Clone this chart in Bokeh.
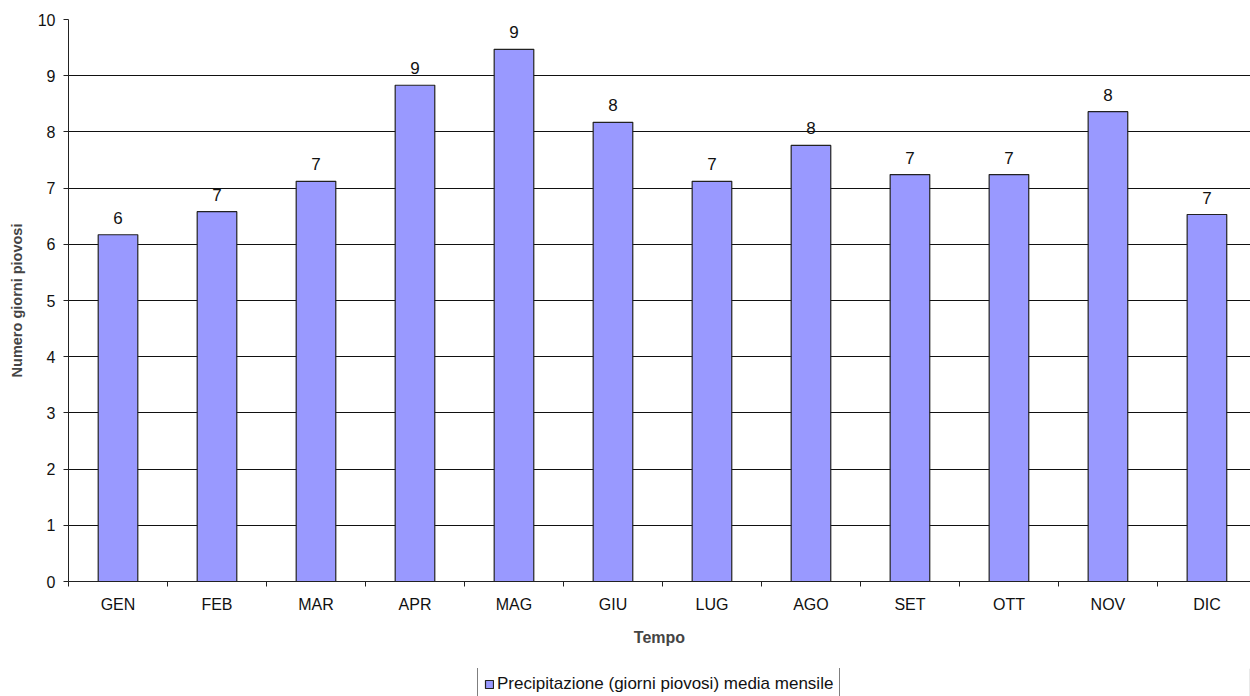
from bokeh.plotting import figure
from bokeh.models import ColumnDataSource, FixedTicker, Range1d, Legend, LegendItem
from bokeh.layouts import column
from bokeh.embed import file_html
from bokeh.resources import INLINE
from bokeh.core.properties import value

months = ["GEN", "FEB", "MAR", "APR", "MAG", "GIU", "LUG", "AGO", "SET", "OTT", "NOV", "DIC"]
giorni = [6.17, 6.58, 7.12, 8.83, 9.47, 8.17, 7.12, 7.76, 7.24, 7.24, 8.36, 6.53]
y_ticks = [0, 1, 2, 3, 4, 5, 6, 7, 8, 9, 10]
series_name = "Precipitazione (giorni piovosi) media mensile"

centers = [i + 0.5 for i in range(len(months))]
bounds = [i for i in range(len(months) + 1)]
labels = [str(int(round(v))) for v in giorni]

src = ColumnDataSource(dict(x=centers, top=giorni, lab=labels))

FONT = "Liberation Sans"
BAR_FILL = "#9999FF"
BAR_LINE = "#222222"

p = figure(width=1250, height=668,
           output_backend="svg", toolbar_location=None,
           x_range=Range1d(0, 11.94), y_range=Range1d(0, 10),
           min_border_left=68, min_border_right=0, min_border_top=19, min_border_bottom=87)
p.outline_line_color = None
p.background_fill_color = "white"

r = p.vbar(x="x", top="top", width=0.4, bottom=0, source=src,
           fill_color=BAR_FILL, line_color=BAR_LINE, line_width=1.2)

p.text(x="x", y="top", text="lab", source=src, y_offset=-11, text_align="center",
       text_baseline="bottom", text_font=value(FONT), text_font_size="17px",
       text_color="#111111")

# y axis
p.yaxis.ticker = FixedTicker(ticks=y_ticks)
p.yaxis.axis_label = "Numero giorni piovosi"
p.yaxis.axis_label_text_font = FONT
p.yaxis.axis_label_text_font_style = "bold"
p.yaxis.axis_label_text_font_size = "14.5px"
p.yaxis.axis_label_standoff = 10
p.yaxis.major_label_text_font = FONT
p.yaxis.major_label_text_font_size = "16px"
p.yaxis.major_label_text_color = "#111111"
p.yaxis.major_label_standoff = 8
p.yaxis.major_tick_out = 5
p.yaxis.major_tick_in = 0
p.yaxis.minor_tick_line_color = None
p.yaxis.axis_line_color = "#222222"
p.yaxis.major_tick_line_color = "#222222"

# x axis
p.xaxis.ticker = FixedTicker(ticks=centers, minor_ticks=bounds)
p.xaxis.major_label_overrides = {c: m for c, m in zip(centers, months)}
p.xaxis.major_tick_line_color = None
p.xaxis.major_tick_out = 5
p.xaxis.minor_tick_out = 5
p.xaxis.minor_tick_in = 0
p.xaxis.minor_tick_line_color = "#222222"
p.xaxis.axis_line_color = "#222222"
p.xaxis.major_label_text_font = FONT
p.xaxis.major_label_text_font_size = "16px"
p.xaxis.major_label_text_color = "#111111"
p.xaxis.major_label_standoff = 9
p.xaxis.axis_label = "Tempo"
p.xaxis.axis_label_text_font = FONT
p.xaxis.axis_label_text_font_style = "bold"
p.xaxis.axis_label_text_font_size = "16px"
p.xaxis.axis_label_standoff = 13

p.xgrid.grid_line_color = None
p.ygrid.ticker = FixedTicker(ticks=y_ticks)
p.ygrid.grid_line_color = "#111111"
p.ygrid.grid_line_width = 1

# legend strip below the chart (its bar is outside the visible range, only the legend shows)
p2 = figure(width=1250, height=28, output_backend="svg", toolbar_location=None,
            x_range=Range1d(0, 1), y_range=Range1d(0, 1),
            x_axis_location=None, y_axis_location=None,
            min_border_left=0, min_border_right=0, min_border_top=0, min_border_bottom=0)
p2.outline_line_color = None
p2.xgrid.grid_line_color = None
p2.ygrid.grid_line_color = None
dummy = p2.vbar(x=[5], top=[5], width=0.4, fill_color=BAR_FILL, line_color=BAR_LINE, line_width=1.2)

legend = Legend(items=[LegendItem(label=series_name, renderers=[dummy])],
                location=(409, -5), orientation="horizontal",
                label_text_font=FONT, label_text_font_size="17px",
                label_text_color="#111111",
                glyph_width=10, glyph_height=10, label_standoff=3,
                border_line_color="#000000", border_line_width=1,
                padding=6, margin=0, spacing=0,
                label_height=20)
p2.add_layout(legend, "center")

layout = column(p, p2, spacing=0)
open("out.html", "w").write(file_html(layout, INLINE))
